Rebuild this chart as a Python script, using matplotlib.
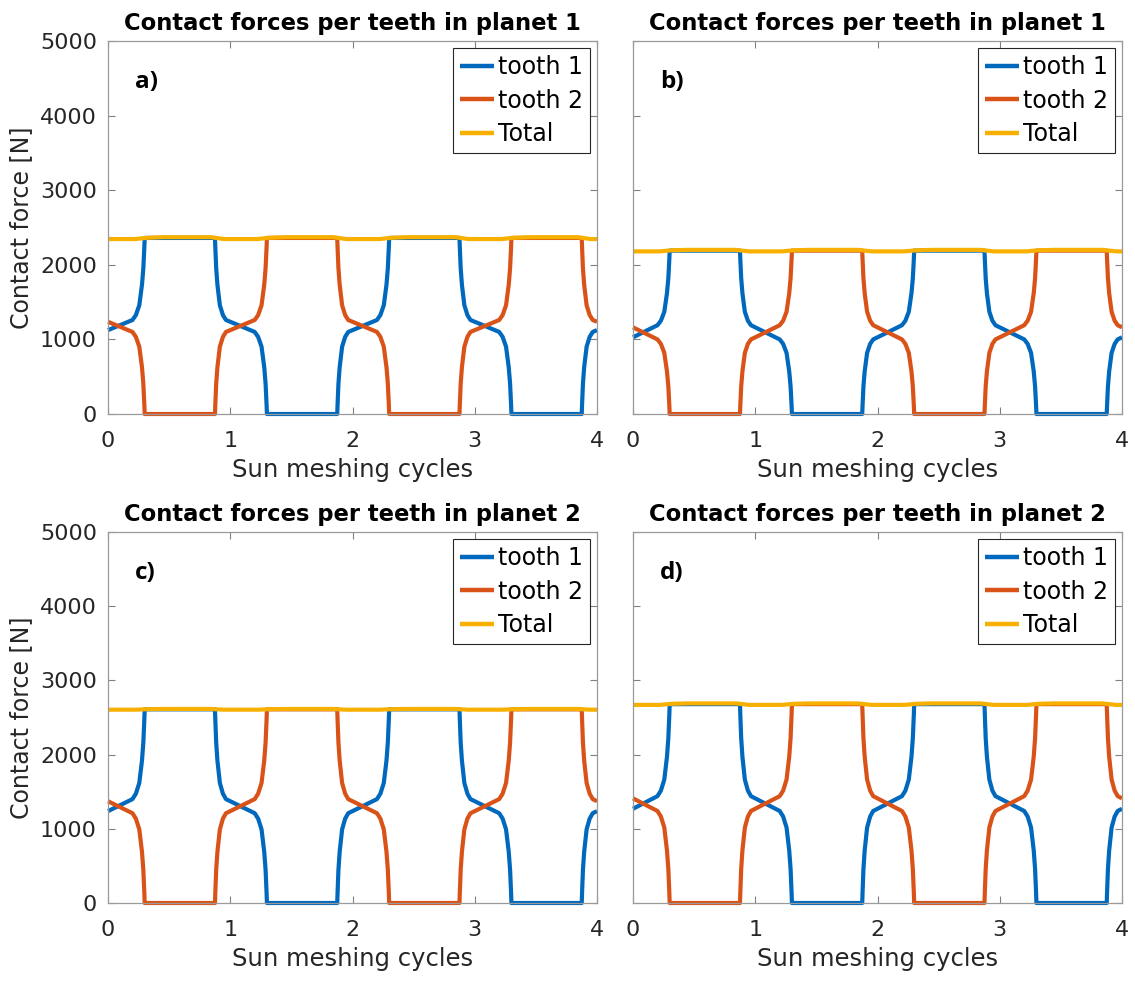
import numpy as np
import matplotlib
matplotlib.use('Agg')
import matplotlib.pyplot as plt

plt.rcParams['font.family'] = ['DejaVu Sans']

# ---- data ----
# one 2-cycle period of tooth-1 contact force; x in sun meshing cycles
period_x = [0.000, 0.100, 0.200, 0.228, 0.256, 0.278, 0.289, 0.297, 0.300, 0.600, 0.875,
            0.878, 0.885, 0.895, 0.915, 0.940, 0.965, 1.080, 1.200, 1.228, 1.256, 1.278,
            1.289, 1.297, 1.300, 1.600, 1.875, 1.878, 1.885, 1.895, 1.915, 1.940, 1.965]
tooth1_a = [1124, 1192, 1260, 1326, 1458, 1733, 1953, 2228, 2360, 2360, 2360, 2228, 1953, 1733, 1458, 1326,
            1260, 1182, 1100, 1034, 902, 627, 407, 132, 0, 0, 0, 132, 407, 627, 902, 1034, 1100]
tooth1_b = [1028, 1109, 1190, 1250, 1370, 1620, 1820, 2070, 2190, 2190, 2190, 2070, 1820, 1620, 1370, 1250,
            1190, 1097, 1000, 940, 820, 570, 370, 120, 0, 0, 0, 120, 370, 570, 820, 940, 1000]
tooth1_c = [1238, 1319, 1400, 1473, 1618, 1920, 2162, 2465, 2610, 2610, 2610, 2465, 2162, 1920, 1618, 1473,
            1400, 1307, 1210, 1137, 992, 690, 448, 145, 0, 0, 0, 145, 448, 690, 992, 1137, 1210]
tooth1_d = [1270, 1355, 1440, 1514, 1663, 1973, 2221, 2531, 2680, 2680, 2680, 2531, 2221, 1973, 1663, 1514,
            1440, 1342, 1240, 1166, 1017, 707, 459, 149, 0, 0, 0, 149, 459, 707, 1017, 1166, 1240]
tooth_period = 2.0      # each tooth repeats every 2 cycles
tooth2_shift = 1.0      # tooth 2 lags tooth 1 by one cycle

# total force over one meshing cycle
total_x = [0.00, 0.22, 0.32, 0.45, 0.84, 0.95]
total_a = [2345, 2345, 2362, 2370, 2370, 2345]
total_b = [2180, 2180, 2195, 2200, 2200, 2180]
total_c = [2605, 2605, 2612, 2615, 2615, 2605]
total_d = [2670, 2670, 2685, 2690, 2690, 2670]
total_period = 1.0

titles = ['Contact forces per teeth in planet 1', 'Contact forces per teeth in planet 1',
          'Contact forces per teeth in planet 2', 'Contact forces per teeth in planet 2']
letters = ['a)', 'b)', 'c)', 'd)']
series_labels = ['tooth 1', 'tooth 2', 'Total']
x_ticks = [0, 1, 2, 3, 4]
y_ticks = [0, 1000, 2000, 3000, 4000, 5000]
xlabel = 'Sun meshing cycles'
ylabel = 'Contact force [N]'

colors = ['#0068BD', '#D95319', '#F7B000']
XMIN, XMAX = 0.0, 4.0


def tile(px, py, period, shift):
    xs, ys = [], []
    for k in range(-3, 4):
        xs += [x + k * period - shift for x in px]
        ys += list(py)
    xs = np.array(xs)
    ys = np.array(ys, dtype=float)
    order = np.argsort(xs, kind='stable')
    xs, ys = xs[order], ys[order]
    inside = (xs > XMIN) & (xs < XMAX)
    x_out = np.concatenate([[XMIN], xs[inside], [XMAX]])
    y_out = np.concatenate([[np.interp(XMIN, xs, ys)], ys[inside], [np.interp(XMAX, xs, ys)]])
    return x_out, y_out


fig = plt.figure(figsize=(11.35, 9.84), dpi=100)
W, H = 1135.0, 984.0
boxes = [(108, 41, 597, 414), (633, 41, 1122, 414), (108, 532, 597, 903), (633, 532, 1122, 903)]
tooth_sets = [tooth1_a, tooth1_b, tooth1_c, tooth1_d]
total_sets = [total_a, total_b, total_c, total_d]

for i, (l, t, r, b) in enumerate(boxes):
    ax = fig.add_axes([l / W, 1 - b / H, (r - l) / W, (b - t) / H])
    t1 = tooth_sets[i]
    x1, y1 = tile(period_x, t1, tooth_period, 0.0)
    x2, y2 = tile(period_x, t1, tooth_period, tooth2_shift)
    xt, yt = tile(total_x, total_sets[i], total_period, 0.0)
    kw = dict(lw=3.0, solid_joinstyle='round', solid_capstyle='butt', clip_on=False)
    ax.plot(x1, y1, color=colors[0], label=series_labels[0], **kw)
    ax.plot(x2, y2, color=colors[1], label=series_labels[1], **kw)
    ax.plot(xt, yt, color=colors[2], label=series_labels[2], **kw)

    ax.set_xlim(XMIN, XMAX)
    ax.set_ylim(0, 5000)
    ax.set_xticks(x_ticks)
    ax.set_yticks(y_ticks)
    ax.tick_params(direction='in', top=True, right=True, length=5, width=0.8,
                   color='#808080', labelsize=16, labelcolor='#262626')
    ax.tick_params(axis='x', pad=12)
    ax.tick_params(axis='y', pad=8)
    for sp in ax.spines.values():
        sp.set_color('#9a9a9a')
        sp.set_linewidth(0.9)
    ax.set_xlabel(xlabel, fontsize=17.5, color='#262626', labelpad=5)
    if i % 2 == 0:
        ax.set_ylabel(ylabel, fontsize=17, color='#262626', labelpad=5)
    else:
        ax.set_yticklabels([])
    ax.set_title(titles[i], fontsize=16.3, fontweight='bold', pad=8)
    ax.text(0.055, 0.89, letters[i], transform=ax.transAxes, fontsize=17.5,
            fontweight='bold', va='center', ha='left', family=['Open Sans', 'DejaVu Sans'])
    leg = ax.legend(loc='upper right', fontsize=17, handlelength=1.45, handletextpad=0.15,
                    labelspacing=0.4, borderpad=0.3, borderaxespad=0.3, fancybox=False,
                    framealpha=1)
    leg.get_frame().set_edgecolor('#262626')
    leg.get_frame().set_linewidth(0.8)
    for h in leg.get_lines():
        h.set_linewidth(3.2)

fig.savefig('out.png', dpi=100)
